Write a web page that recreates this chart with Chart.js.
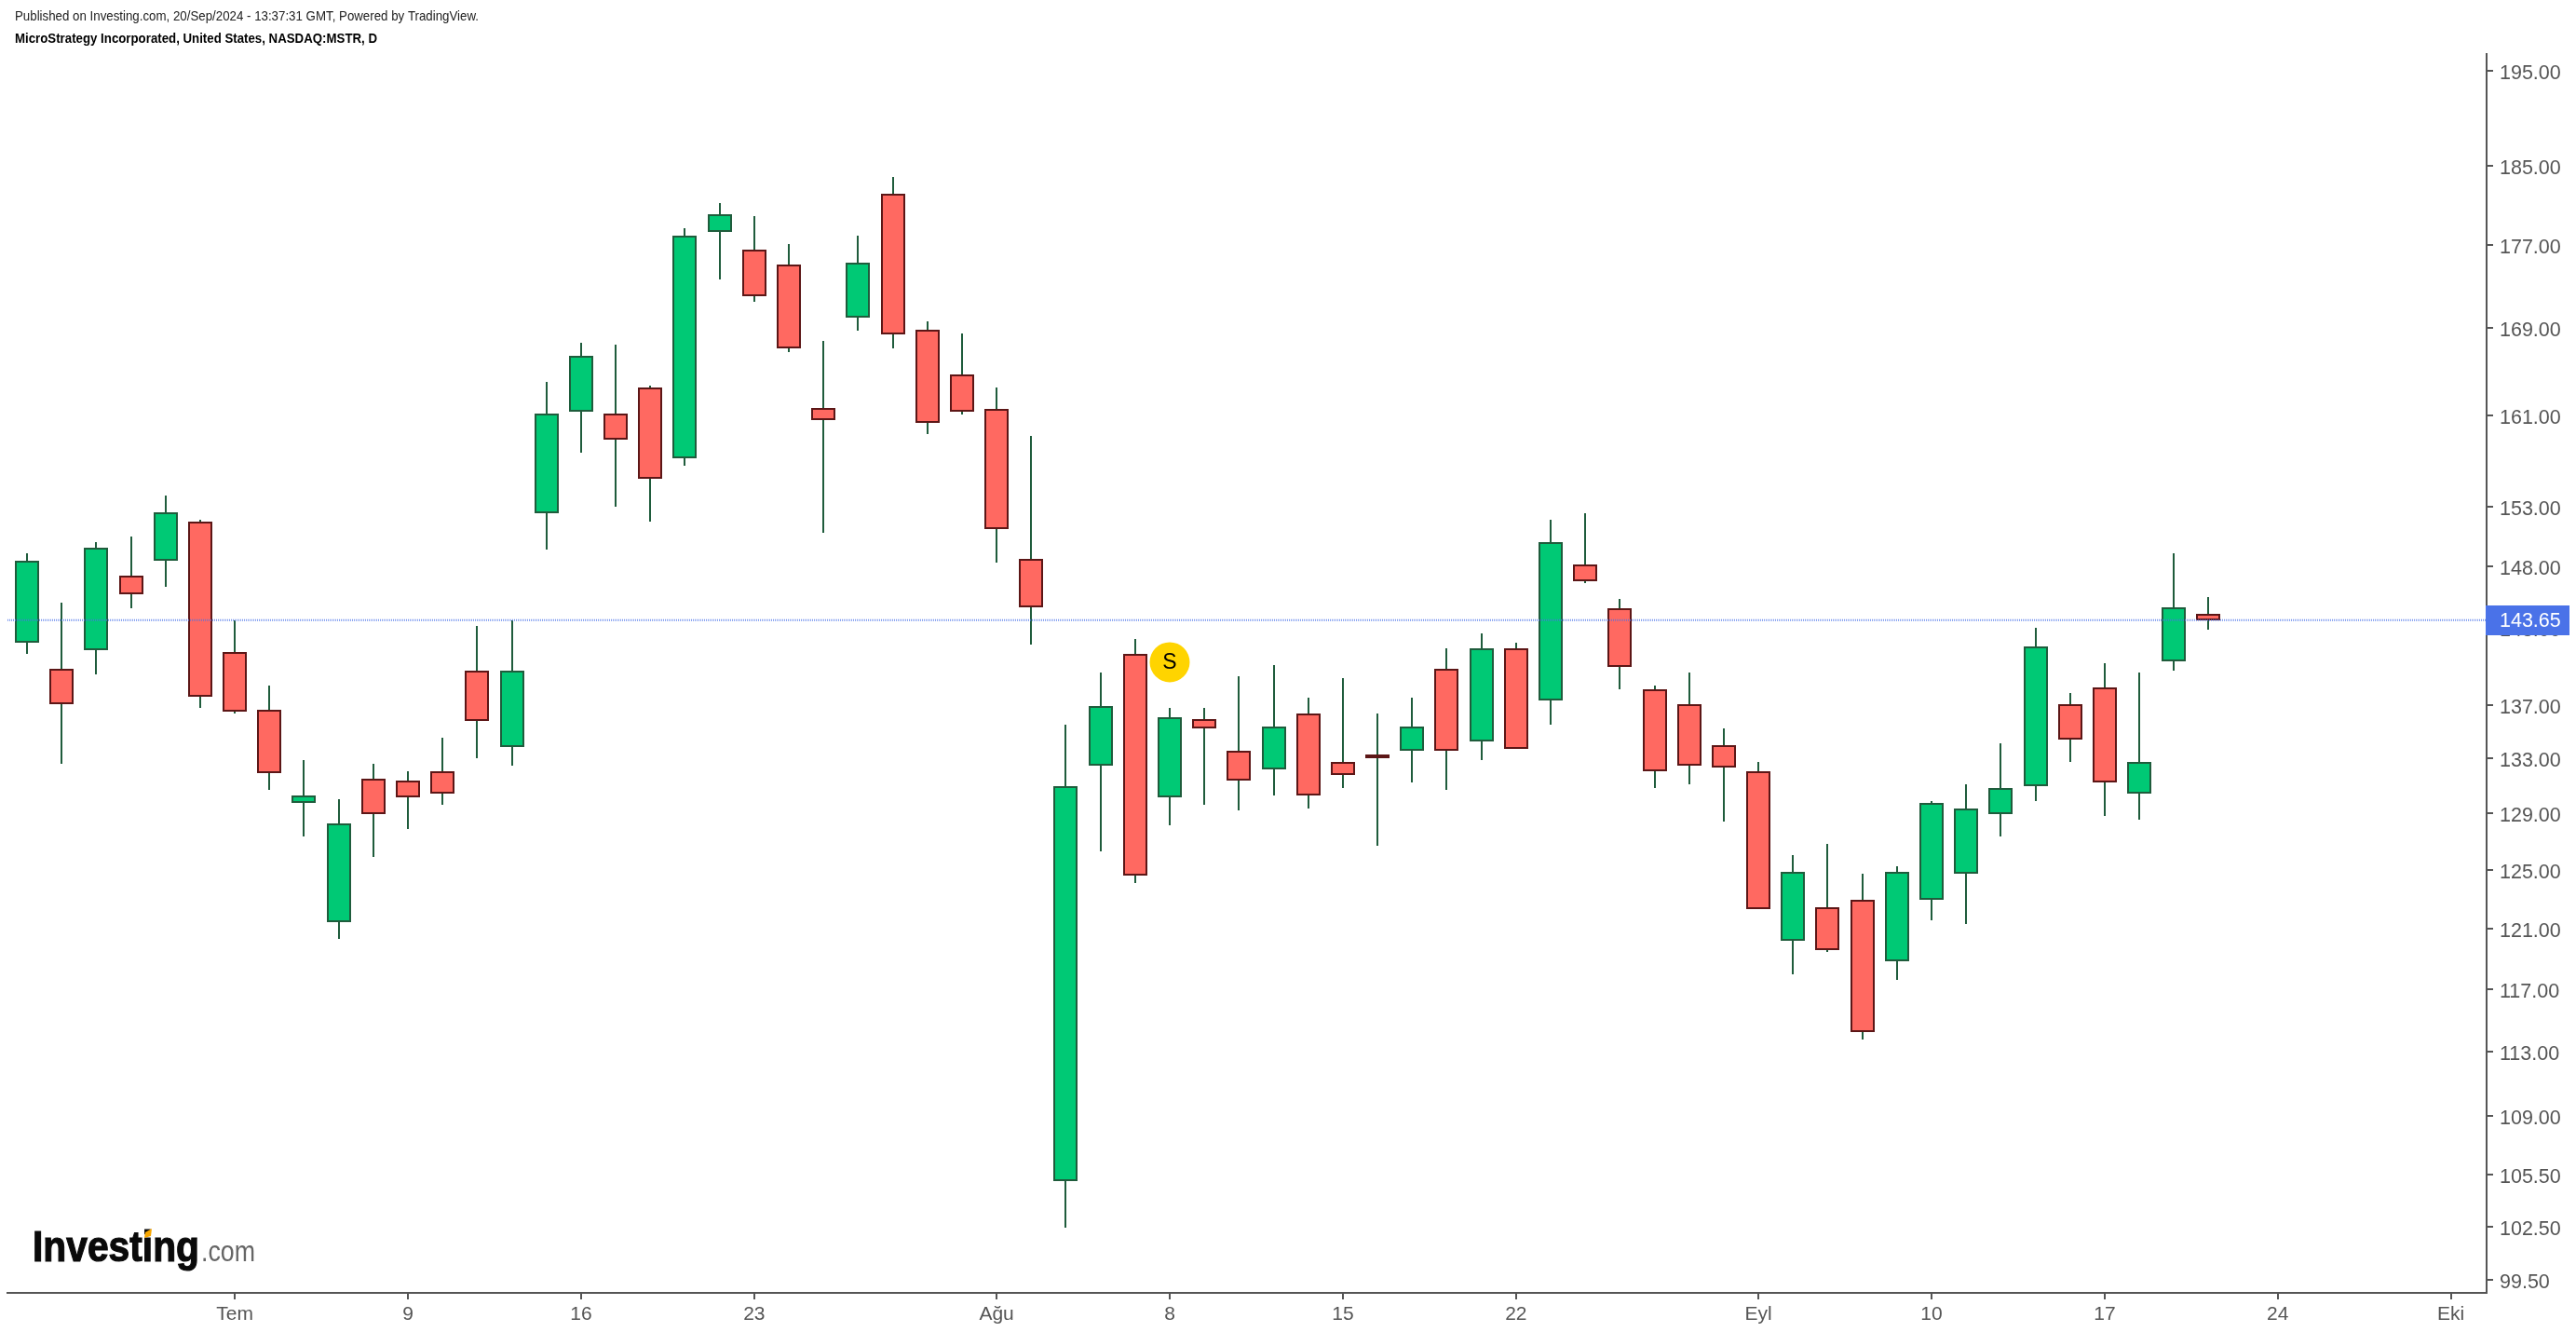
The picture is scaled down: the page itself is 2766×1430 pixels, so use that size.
<!DOCTYPE html>
<html>
<head>
<meta charset="utf-8">
<title>MSTR</title>
<style>
  html, body { margin: 0; padding: 0; background: #fff; }
  canvas { display: block; }
</style>
<script src="https://cdn.jsdelivr.net/npm/chart.js@4"></script>
</head>
<body>
<canvas id="myChart" width="2766" height="1430"></canvas>
<script>
const dates = ["2024-06-21","06-24","06-25","06-26","06-27","06-28","07-01","07-02","07-03","07-05",
  "07-08","07-09","07-10","07-11","07-12","07-15","07-16","07-17","07-18","07-19",
  "07-22","07-23","07-24","07-25","07-26","07-29","07-30","07-31","08-01","08-02",
  "08-05","08-06","08-07","08-08","08-09","08-12","08-13","08-14","08-15","08-16",
  "08-19","08-20","08-21","08-22","08-23","08-26","08-27","08-28","08-29","08-30",
  "09-03","09-04","09-05","09-06","09-09","09-10","09-11","09-12","09-13","09-16",
  "09-17","09-18","09-19","09-20"];

const opens = [141.86,139.83,141.26,147.27,148.47,151.78,141.11,136.69,129.78,121.43,
  131.54,131.41,132.08,139.68,133.84,152.42,161.36,161.19,163.53,157.20,
  178.25,176.59,175.11,161.69,169.95,182.13,168.89,164.69,161.53,148.62,
  105.15,132.49,140.97,130.19,135.98,133.57,132.22,136.40,132.76,133.30,
  133.57,139.83,134.27,141.41,137.40,148.17,144.57,138.26,137.12,133.98,
  132.08,120.18,122.46,122.97,118.83,122.97,124.77,128.97,131.00,137.12,
  138.40,130.46,140.40,144.12];
const closes = [148.47,137.12,149.57,145.77,152.57,137.69,136.55,131.95,130.32,128.29,
  128.97,130.19,130.46,135.83,139.68,161.19,166.44,158.86,155.42,177.88,
  180.10,172.05,167.14,160.53,175.29,168.37,160.36,161.36,151.15,144.71,
  131.00,136.97,124.64,136.12,135.26,131.41,135.41,130.32,131.81,133.03,
  135.41,133.57,141.41,133.71,150.04,146.82,139.97,132.08,132.49,132.36,
  122.33,124.90,119.57,114.22,124.90,129.78,129.38,130.87,141.56,134.41,
  131.27,132.76,144.71,143.65];
const highs = [149.09,145.02,150.04,150.52,154.00,151.94,143.66,138.54,132.90,130.05,
  132.63,132.08,134.55,143.21,143.66,164.03,167.67,167.49,163.69,178.62,
  181.21,179.91,177.14,167.84,177.88,183.84,169.60,168.54,163.53,159.20,
  135.55,139.54,142.17,136.83,136.83,139.26,140.11,137.55,139.11,136.40,
  137.55,141.41,142.61,141.86,151.94,152.42,145.32,138.54,139.54,135.26,
  132.76,126.05,126.82,124.77,125.28,129.92,131.14,134.12,143.06,137.97,
  140.25,139.54,149.09,145.47];
const lows = [140.97,132.63,139.40,144.57,146.37,136.83,136.40,130.73,127.34,120.30,
  125.93,127.89,129.65,133.03,132.49,149.37,157.70,153.05,151.78,156.53,
  173.63,171.53,166.79,150.83,168.72,167.14,159.36,161.03,148.32,141.71,
  102.45,126.31,124.13,128.16,129.65,129.24,130.32,129.38,130.87,126.70,
  131.27,130.73,132.90,133.71,135.55,146.67,138.26,130.87,131.14,128.44,
  122.33,117.98,119.45,113.75,117.61,121.56,121.30,127.34,129.92,132.76,
  128.84,128.57,139.68,142.91];

const priceTicks = [195,185,177,169,161,153,148,143,137,133,129,125,121,117,113,109,105.5,102.5,99.5];
const dateTicks = [6,11,16,21,28,33,38,43,50,55,60,65,70];
const dateTickLabels = ["Tem","9","16","23","Ağu","8","15","22","Eyl","10","17","24","Eki"];

const lastPrice = 143.65;
const splitBar = 33, splitLevel = 140.33;

const xMin = -0.565, xMax = 71.03;
const yMin = 98.79, yMax = 196.85;

const green = "#00c975", greenDark = "#1f5c3c", red = "#ff6961", redDark = "#5c1616", axisGrey = "#555555";

const bodyData = opens.map((o, i) => ({ x: i, y: [o, closes[i]] }));
const wickData = lows.map((l, i) => ({ x: i, y: [l, highs[i]] }));

// header, logo, split letter and price tag
const overlay = {
  id: "overlay",
  afterDatasetsUpdate(chart) {
    // keep the candles on whole pixels so the borders stay sharp
    [0, 1].forEach(d => {
      chart.getDatasetMeta(d).data.forEach(bar => {
        bar.x = Math.round(bar.x);
        bar.y = Math.round(bar.y);
        bar.base = Math.round(bar.base);
      });
    });
  },
  beforeDraw(chart) {
    // price labels sit a little below their tick marks
    if (!chart.$labelsMoved) {
      chart.scales.y.getLabelItems().forEach(item => { item.options.translation[1] += 3; });
      chart.$labelsMoved = true;
    }
  },
  afterDatasetsDraw(chart) {
    const ctx = chart.ctx;
    ctx.save();
    const marker = chart.getDatasetMeta(3).data[0];
    ctx.fillStyle = "#000";
    ctx.font = "23px 'Liberation Sans'";
    ctx.textAlign = "center";
    ctx.textBaseline = "middle";
    ctx.fillText("S", marker.x, marker.y + 1);
    ctx.restore();
  },
  afterDraw(chart) {
    const ctx = chart.ctx;
    ctx.save();
    ctx.textBaseline = "alphabetic";
    ctx.textAlign = "left";
    ctx.fillStyle = "#222";
    ctx.font = "15px 'Liberation Sans'";
    ctx.fillText("Published on Investing.com, 20/Sep/2024 - 13:37:31 GMT, Powered by TradingView.", 16, 22, 498);
    ctx.fillStyle = "#000";
    ctx.font = "bold 15px 'Liberation Sans'";
    ctx.fillText("MicroStrategy Incorporated, United States, NASDAQ:MSTR, D", 16, 46, 389);

    // price tag
    ctx.fillStyle = "#4a72e8";
    ctx.fillRect(2669, 650, 90, 32);
    ctx.fillStyle = "#fff";
    ctx.font = "21.5px 'Liberation Sans'";
    ctx.textBaseline = "middle";
    ctx.fillText(lastPrice.toFixed(2), 2684, 667);

    // logo
    ctx.textBaseline = "alphabetic";
    ctx.fillStyle = "#0a0a0a";
    ctx.strokeStyle = "#0a0a0a";
    ctx.lineWidth = 1.2;
    ctx.font = "bold 46px 'Liberation Sans'";
    ctx.fillText("Investing", 35, 1354, 179);
    ctx.strokeText("Investing", 35, 1354, 179);
    ctx.fillStyle = "#666";
    ctx.font = "31px 'Liberation Sans'";
    ctx.fillText(".com", 216, 1354, 58);
    ctx.fillStyle = "#f7a600";
    ctx.beginPath();
    ctx.moveTo(163, 1319);
    ctx.lineTo(162, 1327);
    ctx.lineTo(155, 1329);
    ctx.lineTo(156, 1323);
    ctx.closePath();
    ctx.fill();
    ctx.restore();
  }
};

new Chart("myChart", {
  type: "bar",
  data: {
    datasets: [{
      label: "body",
      data: bodyData,
      order: 2,
      grouped: false,
      barThickness: 26,
      borderWidth: 2,
      borderSkipped: false,
      inflateAmount: 0,
      backgroundColor: opens.map((o, i) => closes[i] >= o ? green : red),
      borderColor: opens.map((o, i) => closes[i] >= o ? greenDark : redDark)
    }, {
      label: "wick",
      data: wickData,
      order: 3,
      grouped: false,
      barThickness: 2,
      borderWidth: 0,
      inflateAmount: 0,
      backgroundColor: greenDark
    }, {
      type: "line",
      label: "last",
      data: [{ x: xMin, y: lastPrice }, { x: xMax, y: lastPrice }],
      order: 1,
      borderColor: "rgba(74,114,232,0.75)",
      borderWidth: 2,
      borderDash: [1, 1],
      pointRadius: 0
    }, {
      type: "scatter",
      label: "split",
      data: [{ x: splitBar, y: splitLevel }],
      order: 0,
      pointRadius: 21.5,
      borderWidth: 0,
      backgroundColor: "#ffd400"
    }]
  },
  plugins: [overlay],
  options: {
    responsive: false,
    animation: false,
    layout: { autoPadding: false, padding: { top: 58, left: 8, right: 0, bottom: 0 } },
    plugins: {
      legend: { display: false },
      title: { display: false },
      tooltip: { enabled: false }
    },
    scales: {
      x: {
        type: "linear",
        min: xMin,
        max: xMax,
        offset: false,
        afterFit(scale) { scale.height = 42; scale.paddingLeft = 0; scale.paddingRight = 0; },
        afterBuildTicks(scale) { scale.ticks = dateTicks.map(v => ({ value: v })); },
        border: { color: axisGrey, width: 2 },
        grid: { offset: false, drawOnChartArea: false, tickLength: 7, tickColor: axisGrey, tickWidth: 2, lineWidth: 2 },
        ticks: {
          autoSkip: false,
          maxRotation: 0,
          padding: 4,
          color: axisGrey,
          font: { family: "'Liberation Sans'", size: 21 },
          callback: v => dateTickLabels[dateTicks.indexOf(v)]
        }
      },
      y: {
        type: "logarithmic",
        position: "right",
        min: yMin,
        max: yMax,
        afterFit(scale) { scale.width = 96; scale.paddingTop = 0; scale.paddingBottom = 0; },
        afterBuildTicks(scale) { scale.ticks = priceTicks.map(v => ({ value: v })); },
        border: { color: axisGrey, width: 2 },
        grid: { drawOnChartArea: false, tickLength: 7, tickColor: axisGrey, tickWidth: 2, lineWidth: 2 },
        ticks: {
          autoSkip: false,
          padding: 7,
          color: axisGrey,
          font: { family: "'Liberation Sans'", size: 21.5 },
          callback: v => v.toFixed(2)
        }
      }
    }
  }
});
</script>
</body>
</html>
